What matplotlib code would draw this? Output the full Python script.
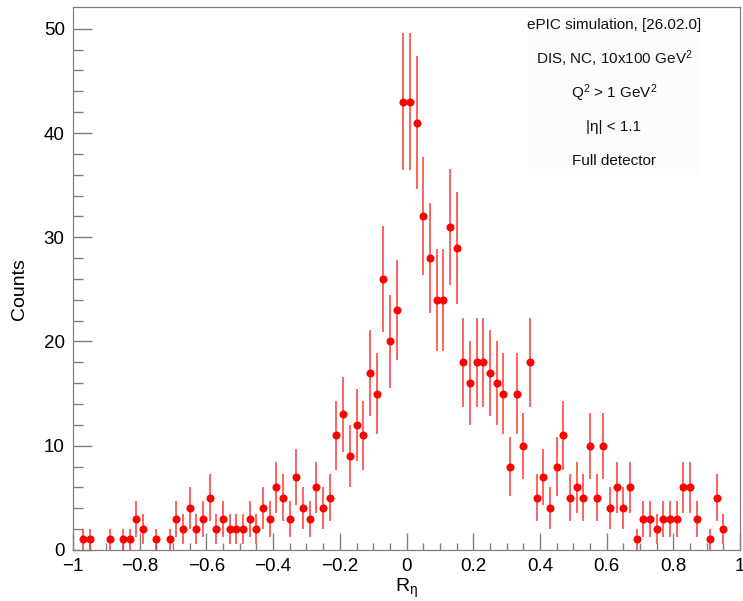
import matplotlib
matplotlib.use("Agg")
import matplotlib.pyplot as plt
import numpy as np

plt.rcParams["font.family"] = ["Liberation Sans", "DejaVu Sans"]
plt.rcParams["mathtext.fontset"] = "custom"
plt.rcParams["mathtext.rm"] = "Liberation Sans"
plt.rcParams["mathtext.it"] = "Liberation Sans"
plt.rcParams["mathtext.default"] = "regular"
plt.rcParams["axes.unicode_minus"] = True

# histogram: 100 bins between -1 and 1
bin_edges = np.linspace(-1.0, 1.0, 101)
counts = [
    0, 1, 1, 0, 0, 1, 0, 1, 1, 3,
    2, 0, 1, 0, 1, 3, 2, 4, 2, 3,
    5, 2, 3, 2, 2, 2, 3, 2, 4, 3,
    6, 5, 3, 7, 4, 3, 6, 4, 5, 11,
    13, 9, 12, 11, 17, 15, 26, 20, 23, 43,
    43, 41, 32, 28, 24, 24, 31, 29, 18, 16,
    18, 18, 17, 16, 15, 8, 15, 10, 18, 5,
    7, 4, 8, 11, 5, 6, 5, 10, 5, 10,
    4, 6, 4, 6, 1, 3, 3, 2, 3, 3,
    3, 6, 6, 3, 0, 1, 5, 2, 0, 0,
]
info_lines = [
    "ePIC simulation, [26.02.0]",
    "DIS, NC, 10x100 GeV$^{2}$",
    "Q$^{2}$ > 1 GeV$^{2}$",
    "|η| < 1.1",
    "Full detector",
]

centers = 0.5 * (bin_edges[:-1] + bin_edges[1:])
n = np.array(counts, dtype=float)
keep = n > 0

fig = plt.figure(figsize=(7.43, 6.01), dpi=100)
ax = fig.add_axes([0.0983, 0.085, 0.8977, 0.9035])

ax.errorbar(centers[keep], n[keep], yerr=np.sqrt(n[keep]), fmt="none",
            ecolor="#ff3030", elinewidth=1.4, alpha=0.75, capsize=0)
ax.plot(centers[keep], n[keep], "o", color="red", markersize=5.8,
        markeredgewidth=0)

ax.set_xlim(-1, 1)
ax.set_ylim(0, 52.1)
ax.set_xticks(np.arange(-1, 1.01, 0.2))
ax.set_xticks(np.arange(-1, 1.01, 0.05), minor=True)
ax.set_yticks(np.arange(0, 51, 10))
ax.set_yticks(np.arange(0, 52, 2), minor=True)
ax.set_xticklabels(["\u22121", "\u22120.8", "\u22120.6", "\u22120.4", "\u22120.2",
                    "0", "0.2", "0.4", "0.6", "0.8", "1"])

ax.tick_params(axis="both", which="both", direction="in", colors="#808080",
               labelcolor="black", labelsize=13.5, width=1)
ax.tick_params(axis="x", which="major", length=12, pad=6)
ax.tick_params(axis="x", which="minor", length=5)
ax.tick_params(axis="y", which="major", length=14, pad=6)
ax.tick_params(axis="y", which="minor", length=7)
for s in ax.spines.values():
    s.set_color("#808080")
    s.set_linewidth(0.9)

ax.set_xlabel("R$_{η}$", fontsize=14, labelpad=1)
ax.set_ylabel("Counts", fontsize=14)
ax.yaxis.set_label_coords(-0.068, 0.48)

# info box
box = plt.Rectangle((0.682, 0.69), 0.258, 0.298, transform=ax.transAxes,
                    facecolor="#fcfcfc", edgecolor="none", zorder=0)
ax.add_patch(box)
for i, t in enumerate(info_lines):
    ax.text(0.811, 0.967 - i * 0.0626, t, transform=ax.transAxes,
            ha="center", va="center", fontsize=11, color="#111111")

fig.savefig("out.png", dpi=100)
